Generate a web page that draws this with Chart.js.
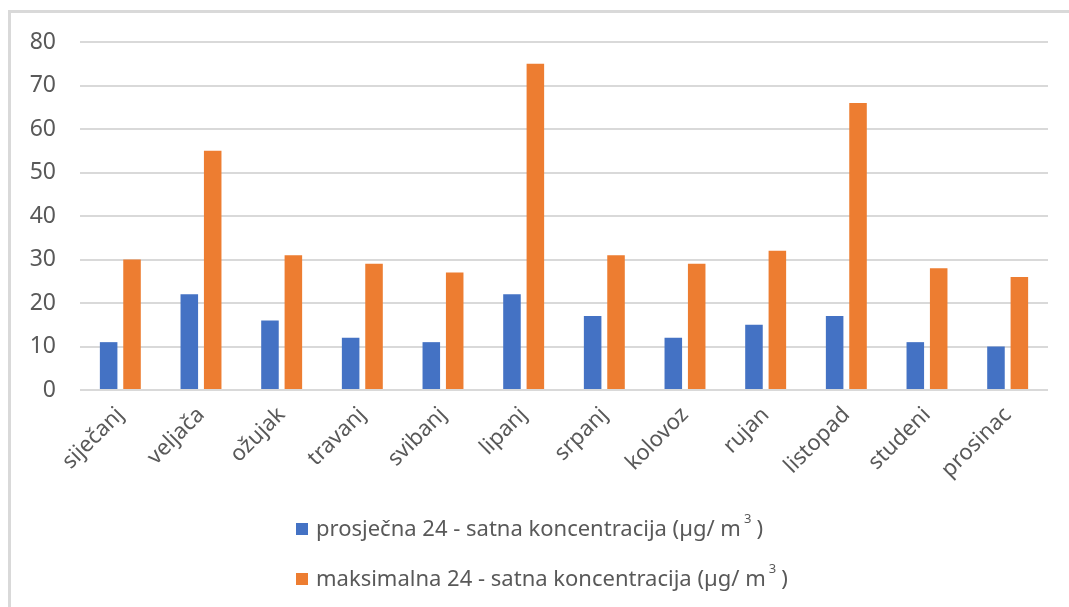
<!DOCTYPE html>
<html>
<head>
<meta charset="utf-8">
<script src="https://cdn.jsdelivr.net/npm/chart.js@4"></script>
<style>
  html, body { margin: 0; padding: 0; background: #fff; overflow: hidden; }
  #wrap { position: relative; width: 1069px; height: 607px; }
  #frame { position: absolute; left: 8px; top: 10px; width: 1200px; height: 800px; border: 3px solid #d9d9d9; box-sizing: border-box; }
  #legend { position: absolute; left: 296px; top: 510px; font-family: 'Noto Sans', sans-serif; font-size: 22px; color: #595959; }
  #legend div { height: 50px; line-height: 34px; white-space: nowrap; }
  #legend span.box { display: inline-block; width: 12px; height: 12px; margin-right: 8px; vertical-align: 1px; }
  #legend sup { font-size: 13px; vertical-align: 13px; line-height: 0; margin: 0 5px 0 3px; }
</style>
</head>
<body>
<div id="wrap">
  <div id="frame"></div>
  <canvas id="bar-chart" width="1069" height="607" style="position:absolute;left:0;top:0;"></canvas>
  <div id="legend"></div>
</div>
<script>
const months = ['siječanj','veljača','ožujak','travanj','svibanj','lipanj','srpanj','kolovoz','rujan','listopad','studeni','prosinac'];
const avgValues = [11, 22, 16, 12, 11, 22, 17, 12, 15, 17, 11, 10];
const maxValues = [30, 55, 31, 29, 27, 75, 31, 29, 32, 66, 28, 26];
const seriesNames = ['prosječna 24 - satna koncentracija (µg/ m³)', 'maksimalna 24 - satna koncentracija (µg/ m³)'];
const seriesColors = ['#4472c4', '#ed7d31'];
const yTicks = [0, 10, 20, 30, 40, 50, 60, 70, 80];

const font = "'Noto Sans', sans-serif";

new Chart(document.getElementById('bar-chart'), {
  type: 'bar',
  data: {
    labels: months,
    datasets: [{
        label: seriesNames[0],
        data: avgValues,
        backgroundColor: seriesColors[0],
        categoryPercentage: 0.58,
        barPercentage: 0.75
      }, {
        label: seriesNames[1],
        data: maxValues,
        backgroundColor: seriesColors[1],
        categoryPercentage: 0.58,
        barPercentage: 0.75
      }
    ]
  },
  options: {
    responsive: false,
    animation: false,
    layout: { padding: { left: 0, top: 42, right: 21, bottom: 0 } },
    plugins: {
      legend: { display: false },
      tooltip: { enabled: false }
    },
    scales: {
      x: {
        grid: { display: false },
        border: { display: false },
        ticks: { color: '#595959', font: { family: font, size: 22 }, minRotation: 45, maxRotation: 45, padding: 4 },
        afterFit: s => { s.height = 217; }
      },
      y: {
        min: 0, max: 80,
        afterBuildTicks: s => { s.ticks = yTicks.map(v => ({ value: v })); },
        grid: { color: '#d9d9d9', lineWidth: 2, drawTicks: false },
        border: { display: false },
        ticks: { color: '#595959', font: { family: font, size: 23 }, padding: 24 },
        afterFit: s => { s.width = 80; }
      }
    }
  }
});

// legend in two rows, as in the original
const legend = document.getElementById('legend');
seriesNames.forEach((name, i) => {
  const row = document.createElement('div');
  const box = document.createElement('span');
  box.className = 'box';
  box.style.background = seriesColors[i];
  row.appendChild(box);
  const parts = name.split('³');
  row.appendChild(document.createTextNode(parts[0]));
  const sup = document.createElement('sup');
  sup.textContent = '3';
  row.appendChild(sup);
  row.appendChild(document.createTextNode(parts[1]));
  legend.appendChild(row);
});
</script>
</body>
</html>
